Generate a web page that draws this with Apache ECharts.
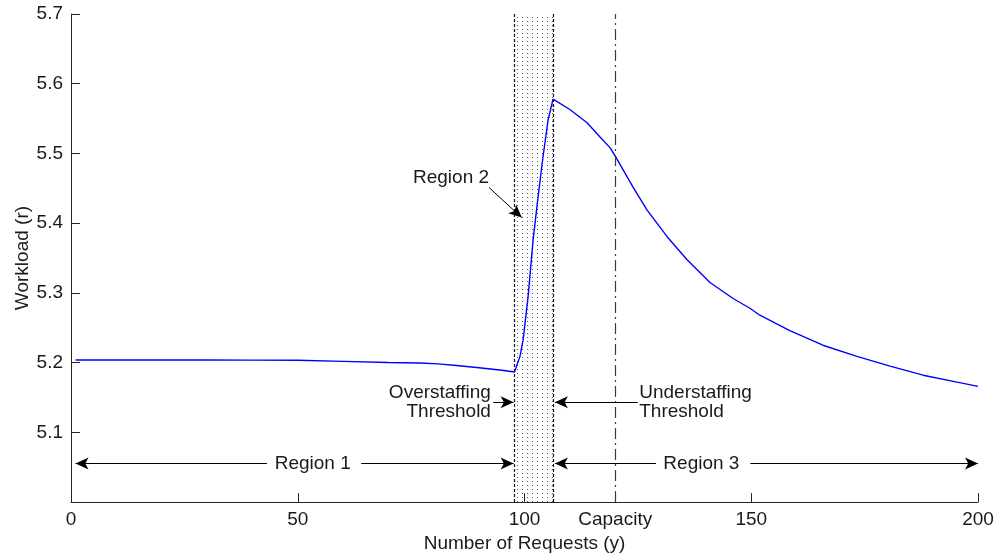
<!DOCTYPE html>
<html>
<head>
<meta charset="utf-8">
<title>Workload vs Number of Requests</title>
<script src="https://cdn.jsdelivr.net/npm/echarts@6.0.0/dist/echarts.min.js"></script>
<style>
  html, body { margin: 0; padding: 0; background: #ffffff; }
  #chart { width: 999px; height: 558px; }
</style>
</head>
<body>
<div id="chart"></div>
<script>
// Workload r as a function of the number of requests y
const requests = [1, 10, 20, 30, 40, 50, 60, 70, 77, 81, 85, 90, 95, 97.8,
  99.0, 99.7, 100.8, 101.9, 103.0, 104.1, 105.2, 106.3,
  110.0, 113.8, 116.6, 118.9, 120.2, 123.9, 127.0, 131.4, 135.8, 140.9,
  146.0, 149.7, 151.9, 158.5, 165.8, 173.3, 180.6, 187.9, 195.4, 200];
const workload = [5.2037, 5.2037, 5.2037, 5.2037, 5.2036, 5.2034, 5.2018, 5.2001, 5.1994, 5.1983, 5.1960, 5.1926, 5.1890, 5.1865,
  5.209, 5.233, 5.295, 5.376, 5.438, 5.496, 5.548, 5.578,
  5.563, 5.544, 5.524, 5.508, 5.494, 5.452, 5.419, 5.381, 5.348, 5.315,
  5.292, 5.278, 5.268, 5.246, 5.225, 5.209, 5.195, 5.182, 5.172, 5.166];

// Thresholds bounding region 2 and the capacity marker
const overstaffingThreshold = 97.8;
const understaffingThreshold = 106.3;
const capacity = 120;

// Axis ticks
const xTicks = [0, 50, 100, 120, 150, 200];
const yTicks = [5.1, 5.2, 5.3, 5.4, 5.5, 5.6, 5.7];

// Annotation anchors in data units: [x, y]
const regionArrowY = 5.0553;
const region1Label = [53.3, regionArrowY];
const region1Arrows = [[[43.2, regionArrowY], [1.0, regionArrowY]], [[64.0, regionArrowY], [97.6, regionArrowY]]];
const region3Label = [139.0, regionArrowY];
const region3Arrows = [[[129.0, regionArrowY], [106.7, regionArrowY]], [[149.8, regionArrowY], [200, regionArrowY]]];
const thresholdArrowY = 5.1432;
const overLabel = [92.6, thresholdArrowY];
const overArrow = [[93.1, thresholdArrowY], [97.6, thresholdArrowY]];
const underLabel = [125.3, thresholdArrowY];
const underArrow = [[125.0, thresholdArrowY], [106.7, thresholdArrowY]];
const region2Label = [83.8, 5.465];
const region2Arrow = [[92.2, 5.451], [99.4, 5.408]];

const FONT = "'Liberation Sans', Arial, Helvetica, sans-serif";
const TEXT = '#1a1a1a';

// Stipple fill for the region between the thresholds
const dots = document.createElement('canvas');
dots.width = 5;
dots.height = 4;
const dctx = dots.getContext('2d');
dctx.fillStyle = '#555555';
dctx.fillRect(2, 1, 1, 1);

function arrowItem(seg) {
  return [
    { coord: seg[0], symbol: 'none' },
    { coord: seg[1], symbol: 'arrow', symbolSize: [9, 13] }
  ];
}

function textPoint(pos, text, align) {
  return {
    coord: pos,
    symbol: 'rect',
    symbolSize: 0,
    label: {
      show: true,
      position: 'inside',
      formatter: text,
      align: align,
      verticalAlign: 'middle',
      color: TEXT,
      fontFamily: FONT,
      fontSize: 19,
      lineHeight: 19
    }
  };
}

const chart = echarts.init(document.getElementById('chart'), null, { renderer: 'canvas' });

chart.setOption({
  animation: false,
  backgroundColor: '#ffffff',
  grid: { left: 71, right: 21, top: 14, bottom: 55, containLabel: false },
  xAxis: {
    type: 'value',
    min: 0,
    max: 200,
    name: 'Number of Requests (y)',
    nameLocation: 'middle',
    nameGap: 31,
    nameTextStyle: { color: TEXT, fontFamily: FONT, fontSize: 19 },
    axisLine: { lineStyle: { color: '#262626', width: 1 } },
    axisTick: { inside: true, length: 9, customValues: xTicks, lineStyle: { color: '#262626' } },
    axisLabel: {
      customValues: xTicks,
      margin: 8,
      color: TEXT,
      fontFamily: FONT,
      fontSize: 19,
      formatter: v => (v === capacity ? 'Capacity' : String(v))
    },
    splitLine: { show: false }
  },
  yAxis: {
    type: 'value',
    min: 5.0,
    max: 5.7,
    interval: 0.1,
    name: 'Workload (r)',
    nameLocation: 'middle',
    nameRotate: 90,
    nameGap: 39,
    nameMoveOverlap: false,
    nameTextStyle: { color: TEXT, fontFamily: FONT, fontSize: 19 },
    axisLine: { show: true, lineStyle: { color: '#262626', width: 1 } },
    axisTick: { show: true, inside: true, length: 9, customValues: yTicks, lineStyle: { color: '#262626' } },
    axisLabel: {
      customValues: yTicks,
      margin: 8,
      color: TEXT,
      fontFamily: FONT,
      fontSize: 19,
      formatter: v => v.toFixed(1)
    },
    splitLine: { show: false }
  },
  series: [
    {
      name: 'Region 2',
      type: 'line',
      data: [],
      silent: true,
      z: 1,
      markArea: {
        silent: true,
        itemStyle: { color: { image: dots, repeat: 'repeat' } },
        data: [[{ xAxis: overstaffingThreshold }, { xAxis: understaffingThreshold }]]
      },
      markLine: {
        silent: true,
        symbol: 'none',
        label: { show: false },
        data: [
          { xAxis: overstaffingThreshold, lineStyle: { color: '#111111', type: [3, 2], width: 1.2 } },
          { xAxis: understaffingThreshold, lineStyle: { color: '#111111', type: [3, 2], width: 1.2 } },
          { xAxis: capacity, lineStyle: { color: '#3a3a3a', type: [11, 4, 2, 4], width: 1.2 } }
        ]
      }
    },
    {
      name: 'Workload',
      type: 'line',
      z: 3,
      data: requests.map((x, i) => [x, workload[i]]),
      showSymbol: false,
      symbol: 'none',
      lineStyle: { color: '#0000ff', width: 1.4 },
      itemStyle: { color: '#0000ff' }
    },
    {
      name: 'Annotations',
      type: 'line',
      data: [],
      silent: true,
      z: 4,
      markLine: {
        silent: true,
        label: { show: false },
        lineStyle: { color: '#000000', type: 'solid', width: 1 },
        itemStyle: { color: '#000000' },
        data: [
          ...region1Arrows.map(arrowItem),
          ...region3Arrows.map(arrowItem),
          arrowItem(overArrow),
          arrowItem(underArrow),
          arrowItem(region2Arrow)
        ]
      },
      markPoint: {
        silent: true,
        data: [
          textPoint(region1Label, 'Region 1', 'center'),
          textPoint(region3Label, 'Region 3', 'center'),
          textPoint(region2Label, 'Region 2', 'center'),
          textPoint(overLabel, 'Overstaffing\nThreshold', 'right'),
          textPoint(underLabel, 'Understaffing\nThreshold', 'left')
        ]
      }
    }
  ]
});
</script>
</body>
</html>
